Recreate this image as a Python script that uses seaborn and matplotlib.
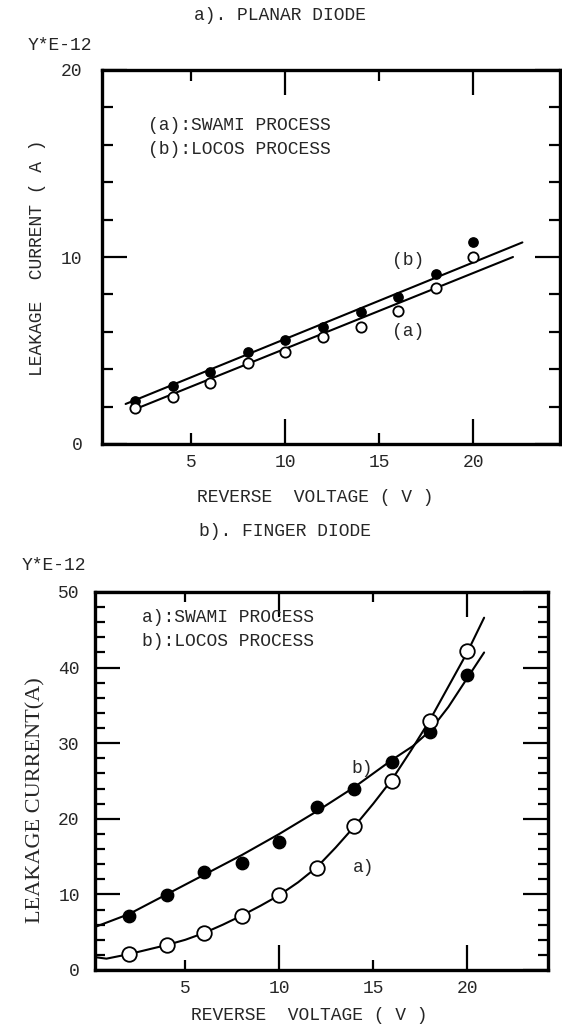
import matplotlib
matplotlib.use("Agg")
import matplotlib.pyplot as plt
from matplotlib.ticker import MultipleLocator
import seaborn as sns

# ---- a) planar diode : measured points (leakage current, E-12 A) ----
planar_v = [2, 4, 6, 8, 10, 12, 14, 16, 18, 20]
planar_locos = [2.32, 3.10, 3.85, 4.92, 5.56, 6.24, 7.06, 7.88, 9.09, 10.8]
planar_swami = [1.91, 2.50, 3.25, 4.32, 4.90, 5.74, 6.27, 7.11, 8.36, 10.02]

# straight fit lines as drawn on the original
planar_fit_locos_v = [1.5, 22.6]
planar_fit_locos_i = [2.14, 10.78]
planar_fit_swami_v = [1.9, 22.1]
planar_fit_swami_i = [1.82, 10.0]

# ---- b) finger diode : measured points ----
finger_v = [2, 4, 6, 8, 10, 12, 14, 16, 18, 20]
finger_locos = [7.2, 9.9, 12.9, 14.2, 16.9, 21.5, 24.0, 27.5, 31.5, 39.0]
finger_swami = [2.1, 3.3, 4.9, 7.2, 9.9, 13.5, 19.0, 25.0, 33.0, 42.2]

# hand drawn curves
curve_locos_v = [0.2, 2, 4, 6, 8, 10, 12, 14, 16, 17.1, 18, 19, 20, 20.9]
curve_locos_i = [5.7, 7.4, 10.0, 12.6, 15.2, 18.0, 21.0, 24.2, 27.8, 29.6, 31.6, 34.8, 38.6, 42.0]
curve_swami_v = [0.2, 0.8, 2, 3, 4, 5, 6, 7, 8, 9, 10, 11, 12, 13, 14, 15, 16, 17, 18, 19, 20, 20.9]
curve_swami_i = [1.7, 1.5, 2.1, 2.7, 3.3, 4.0, 4.9, 6.0, 7.2, 8.5, 9.9, 11.6, 13.6, 16.2, 19.0,
                 22.0, 25.2, 29.0, 33.0, 37.5, 42.0, 46.6]

sns.set_style("ticks")
plt.rcParams["font.family"] = ["Liberation Mono", "DejaVu Sans Mono"]
plt.rcParams["axes.linewidth"] = 2.4

W, H = 562, 1026
fig = plt.figure(figsize=(W / 100, H / 100), dpi=100)


def px_axes(left, top, right, bottom):
    return fig.add_axes([left / W, 1 - bottom / H, (right - left) / W, (bottom - top) / H])


def style_axes(ax, ylab_pad, ms_major, ms_minor):
    ax.set_xticks([10, 20], labels=["10", "20"])
    ax.set_xticks([5, 15], labels=["5", "15"], minor=True)
    ax.tick_params(which="both", direction="in", top=True, right=True,
                   width=1.6, color="black", labelsize=13)
    ax.tick_params(which="major", length=ms_major)
    ax.tick_params(which="minor", length=ms_minor)
    ax.tick_params(axis="x", which="both", pad=7)
    ax.tick_params(axis="y", which="both", pad=ylab_pad)
    ax.yaxis.set_minor_locator(MultipleLocator(2))
    for s in ax.spines.values():
        s.set_color("black")


# ---------------- top panel ----------------
ax1 = px_axes(102, 70, 560, 444)
sns.lineplot(x=planar_fit_locos_v, y=planar_fit_locos_i, ax=ax1, color="black",
             linewidth=1.5, estimator=None)
sns.lineplot(x=planar_fit_swami_v, y=planar_fit_swami_i, ax=ax1, color="black",
             linewidth=1.5, estimator=None)
sns.scatterplot(x=planar_v, y=planar_locos, ax=ax1, color="black", edgecolor="black",
                s=45, linewidth=1, zorder=3)
sns.scatterplot(x=planar_v, y=planar_swami, ax=ax1, color="white", edgecolor="black",
                s=55, linewidth=1.3, zorder=3)
ax1.set_xlim(0.245, 24.6)
ax1.set_ylim(0, 20)
ax1.set_yticks([0, 10, 20])
style_axes(ax1, 14, 18, 8)
ax1.set_xlabel("")
ax1.set_ylabel("")
ax1.text(16.5, 9.8, "(b)", fontsize=13, ha="center", va="center")
ax1.text(16.5, 6.0, "(a)", fontsize=13, ha="center", va="center")

fig.text(280 / W, 1 - 15 / H, "a). PLANAR DIODE", fontsize=13, ha="center", va="center")
fig.text(28 / W, 1 - 46 / H, "Y*E-12", fontsize=13, ha="left", va="center")
fig.text(148 / W, 1 - 126 / H, "(a):SWAMI PROCESS", fontsize=13, ha="left", va="center")
fig.text(148 / W, 1 - 150 / H, "(b):LOCOS PROCESS", fontsize=13, ha="left", va="center")
fig.text(38 / W, 1 - 258 / H, "LEAKAGE  CURRENT ( A )", fontsize=13, rotation=90,
         ha="center", va="center")
fig.text(315 / W, 1 - 497 / H, "REVERSE  VOLTAGE ( V )", fontsize=13, ha="center", va="center")

# ---------------- bottom panel ----------------
ax2 = px_axes(95, 592, 548, 970)
sns.lineplot(x=curve_locos_v, y=curve_locos_i, ax=ax2, color="black", linewidth=1.5,
             estimator=None)
sns.lineplot(x=curve_swami_v, y=curve_swami_i, ax=ax2, color="black", linewidth=1.5,
             estimator=None)
sns.scatterplot(x=finger_v, y=finger_locos, ax=ax2, color="black", edgecolor="black",
                s=80, linewidth=1, zorder=3)
sns.scatterplot(x=finger_v, y=finger_swami, ax=ax2, color="white", edgecolor="black",
                s=110, linewidth=1.3, zorder=3)
ax2.set_xlim(0.19, 24.3)
ax2.set_ylim(0, 50)
ax2.set_yticks([0, 10, 20, 30, 40, 50])
style_axes(ax2, 11, 18, 7)
ax2.set_xlabel("")
ax2.set_ylabel("")
ax2.text(14.4, 26.7, "b)", fontsize=13, ha="center", va="center")
ax2.text(14.5, 13.6, "a)", fontsize=13, ha="center", va="center")

fig.text(285 / W, 1 - 532 / H, "b). FINGER DIODE", fontsize=13, ha="center", va="center")
fig.text(22 / W, 1 - 565 / H, "Y*E-12", fontsize=13, ha="left", va="center")
fig.text(142 / W, 1 - 617 / H, "a):SWAMI PROCESS", fontsize=13, ha="left", va="center")
fig.text(142 / W, 1 - 641 / H, "b):LOCOS PROCESS", fontsize=13, ha="left", va="center")
fig.text(36 / W, 1 - 800 / H, "LEAKAGE CURRENT(A)", fontsize=16, rotation=90,
         ha="center", va="center", family="Liberation Serif")
fig.text(309 / W, 1 - 1016 / H, "REVERSE  VOLTAGE ( V )", fontsize=13, ha="center",
         va="center")

fig.savefig("out.png", dpi=100)
